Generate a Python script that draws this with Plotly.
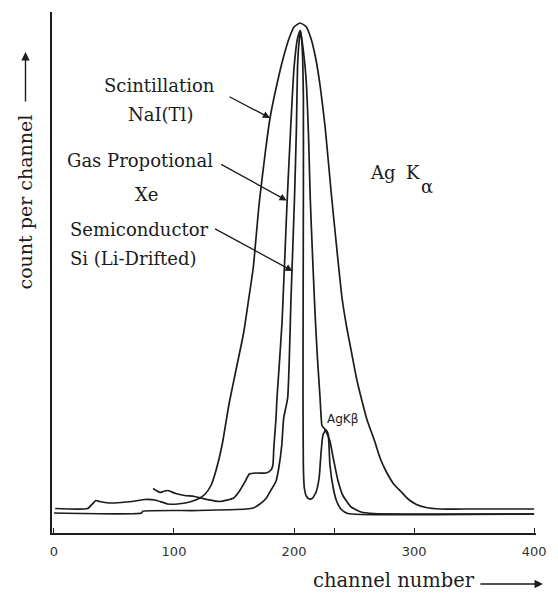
import plotly.graph_objects as go

# ---------------- data ----------------
scint_ch = [1, 28, 32, 35, 38, 46, 56, 65, 76, 84, 95, 103, 113, 120, 126, 131, 135, 140,
            146, 152, 158, 162, 166, 171, 176, 180, 186, 191, 196, 200, 205, 210, 214,
            218, 222, 226, 231, 236, 240, 244, 248, 252, 256, 261, 267, 272, 277, 283,
            289, 295, 302, 310, 322, 340, 400]
scint_ct = [4.9, 4.9, 5.8, 6.5, 6.3, 6.0, 6.1, 6.3, 6.7, 6.6, 5.8, 5.8, 6.2, 6.8, 7.8, 9.6,
            12.5, 17.5, 26, 33, 40, 46.4, 53, 66, 76, 83, 90, 95, 99, 101.2, 102, 101.3,
            99, 95, 89, 81, 68, 56, 47, 41, 36, 31, 27, 22.5, 18.5, 14.8, 12.2, 9.8, 8.3,
            6.8, 5.7, 5.1, 4.8, 4.8, 4.8]

gas_ch = [82.6, 88.3, 90.8, 94.9, 97.3, 101.4, 108.8, 117, 127.6, 138.2, 149.7, 154.6,
          159.5, 162.8, 168.5, 176.7, 180.8, 182.4, 183.2, 184.9, 185.7, 190, 194, 197,
          200, 203, 205.3, 208, 210, 212, 213.5, 215.5, 217.5, 219.5, 221.7, 222.5, 223.3,
          225.8, 229.9, 232.6, 236.6, 240.7, 247.6, 255.8, 266.7, 400]
gas_ct = [8.9, 8.1, 8.3, 8.5, 8.3, 7.9, 7.5, 7.3, 6.7, 6.3, 7.0, 8.4, 10.4, 11.8, 12.0,
          12.0, 12.6, 13.6, 17.2, 22.6, 26.6, 42, 65, 80, 93, 99, 100.5, 96, 91, 80, 67,
          55, 44, 35, 27, 23.5, 21.5, 20.7, 18.4, 15.1, 10.5, 7.5, 5.2, 4.2, 3.9, 3.8]

semi_ch = [0, 73, 74, 120, 160, 166, 171, 176.7, 181.6, 184.9, 187.3, 189.8, 191.4, 194.7,
           197.5, 200.4, 202, 202.9, 204.1, 205.3, 206.4, 207.2, 207.8, 207.8, 207.6, 207.5,
           207.8, 208.6, 210.2, 212.7, 215.1, 218.4, 220.9, 222.5, 224.1, 226.6, 228.5,
           229.9, 232.6, 235.3, 239.4, 244.8, 255.8, 400]
semi_ct = [4.0, 4.0, 4.35, 4.5, 4.8, 5.0, 5.7, 6.9, 8.9, 10.3, 13, 17.6, 23, 27, 47, 67, 81,
           93, 98, 100.5, 98.5, 95, 87, 67, 47, 27, 13, 9, 7.4, 6.8, 6.9, 8.2, 11, 16, 19.6,
           20.7, 19.7, 13.7, 9.1, 6.5, 4.7, 3.9, 3.7, 3.8]

tick_vals = [0, 100, 200, 234, 300, 400]
tick_text = ["0", "100", "200", "", "300", "400"]

# ---------------- layout geometry ----------------
W, H = 558, 595
ML, MR, MT, MB = 52, 13, 12, 62
PW, PH = W - ML - MR, H - MT - MB


def paper(px, py):
    return (px - ML) / PW, (H - MB - py) / PH


INK = "#1c1c1c"
SERIF = "DejaVu Serif"

fig = go.Figure()
for xs, ys, name in [(scint_ch, scint_ct, "Scintillation NaI(Tl)"),
                     (gas_ch, gas_ct, "Gas Propotional Xe"),
                     (semi_ch, semi_ct, "Semiconductor Si (Li-Drifted)")]:
    fig.add_trace(go.Scatter(x=xs, y=ys, mode="lines", name=name,
                             line=dict(color=INK, width=1.7, shape="spline", smoothing=0.5),
                             hoverinfo="skip"))

ann = []


def label(text, px, py, size=18, font=SERIF, **kw):
    x, y = paper(px, py)
    ann.append(dict(text=text, x=x, y=y, xref="paper", yref="paper", showarrow=False,
                    xanchor="center", yanchor="middle",
                    font=dict(family=font, size=size, color=INK), **kw))


label("Scintillation", 161, 85)
label("NaI(Tl)", 163, 114)
label("Gas Propotional", 142, 160)
label("Xe", 148, 194)
label("Semiconductor", 141, 230)
label("Si (Li-Drifted)", 135, 258)
label("Ag", 389, 172)
label("K", 420, 172)
label("α", 434, 186)
label("AgKβ", 348, 419, size=12, font="DejaVu Sans")
label("channel number", 400, 580, size=19.5)
label("count per channel", 25, 202, size=19, textangle=-90)


def arrow_data(ch, ct, ax, ay):
    ann.append(dict(text="", x=ch, y=ct, xref="x", yref="y", ax=ax, ay=ay,
                    showarrow=True, arrowhead=2, arrowsize=1.1, arrowwidth=1.3,
                    arrowcolor=INK))


arrow_data(180, 83, -42, -22)       # Scintillation
arrow_data(193.9, 66.5, -67, -37)   # Gas proportional
arrow_data(198.8, 52.4, -79, -43)   # Semiconductor


def arrow_paper(px, py, ax, ay):
    x, y = paper(px, py)
    ann.append(dict(text="", x=x, y=y, xref="paper", yref="paper", ax=ax, ay=ay,
                    showarrow=True, arrowhead=2, arrowsize=1.2, arrowwidth=1.4,
                    arrowcolor=INK))


arrow_paper(552, 584, -64, 0)   # x title arrow
arrow_paper(25, 52, 0, 51)      # y title arrow

fig.update_layout(
    width=W, height=H,
    margin=dict(l=ML, r=MR, t=MT, b=MB),
    paper_bgcolor="white", plot_bgcolor="white",
    showlegend=False,
    annotations=ann,
    xaxis=dict(range=[-1.636, 401.6], showgrid=False, zeroline=False,
               showline=True, linecolor=INK, linewidth=1.6,
               ticks="inside", ticklen=5, tickwidth=1.3, tickcolor=INK,
               tickvals=tick_vals, ticktext=tick_text, ticklabelstandoff=6,
               tickfont=dict(family="DejaVu Sans", size=13, color="#333")),
    yaxis=dict(range=[0, 104.2], showgrid=False, zeroline=False,
               showline=True, linecolor=INK, linewidth=1.6,
               ticks="", showticklabels=False),
)

fig.write_html("out.html")
